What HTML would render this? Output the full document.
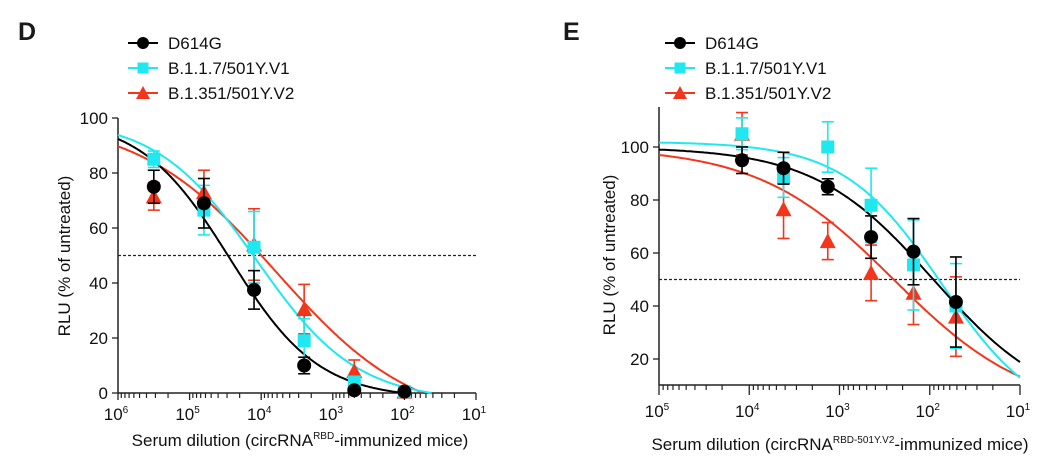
<!DOCTYPE html>
<html><head><meta charset="utf-8"><style>
body{margin:0;background:#fff}
svg{display:block;font-family:"Liberation Sans",Arial,sans-serif}
</style></head><body>
<svg id="fig" width="1054" height="475" viewBox="0 0 1054 475" xmlns="http://www.w3.org/2000/svg">
<text x="18" y="40" font-size="25" font-weight="bold" fill="#1a1a1a">D</text>
<text x="563" y="40" font-size="25" font-weight="bold" fill="#1a1a1a">E</text>
</svg>
<script>
// ---- Panel D data ----
const dLogX = [5.5, 4.8, 4.1, 3.4, 2.7, 2.0];
const dBlack = [75, 69, 37.5, 10, 1, 0.5];
const dBlackErr = [6, 9, 7, 3, 1, 0.5];
const dCyan = [85, 66.5, 53, 19, 4, 0.5];
const dCyanErr = [3, 9, 13, 8, 2, 0.5];
const dRed = [71.5, 73, 54, 30.5, 8, 0.5];
const dRedErr = [5, 8, 13, 9, 4, 0.5];
const dYTicks = [0, 20, 40, 60, 80, 100];
const dXTicks = [6, 5, 4, 3, 2, 1];
// curve params [top, bottom, midpoint(log), hill]
const dFitBlack = [100, -2, 4.44, 0.7];
const dFitCyan = [100, -3, 4.07, 0.62];
const dFitRed = [100, -12, 3.79, 0.45];
// ---- Panel E data ----
const eLogX = [4.08, 3.62, 3.13, 2.65, 2.18, 1.71];
const eBlack = [95, 92, 85, 66, 60.5, 41.5];
const eBlackErr = [5, 6, 3, 8, 12.5, 17];
const eCyan = [105, 88.5, 100, 78, 55.5, 40];
const eCyanErr = [6, 7.5, 9.5, 14, 17, 16];
const eRed = [105, 76.5, 64.5, 52.5, 45, 36];
const eRedErr = [8, 11, 7, 10.5, 12, 15];
const eYTicks = [20, 40, 60, 80, 100];
const eXTicks = [5, 4, 3, 2, 1];
const eFitBlack = [100, 0, 1.96, 0.66];
const eFitCyan = [102, -5, 1.87, 0.8];
const eFitRed = [100, 0, 2.4, 0.58];

const NS = "http://www.w3.org/2000/svg";
const svg = document.getElementById('fig');
const BLACK = "#000", CYAN = "#1fe8f0", RED = "#f2361c";
function mk(tag, attrs, parent) {
  const e = document.createElementNS(NS, tag);
  for (const k in attrs) e.setAttribute(k, attrs[k]);
  (parent || svg).appendChild(e);
  return e;
}
function marker(g, kind, x, y, color, s) {
  let m;
  if (kind === 'c') m = mk('circle', {cx: x, cy: y, r: s, fill: color}, g);
  else if (kind === 's') m = mk('rect', {x: x - s + 0.5, y: y - s + 0.5, width: 2 * s - 1, height: 2 * s - 1, fill: color}, g);
  else m = mk('polygon', {points: `${x},${y - s - 1} ${x - s - 1},${y + s} ${x + s + 1},${y + s}`, fill: color}, g);
  return m;
}
function panel(p) {
  const sx = l => p.x0 + (p.lmax - l) * (p.x1 - p.x0) / (p.lmax - p.lmin);
  const sy = v => p.y0 - (v - p.vmin) * (p.y0 - p.y1) / (p.vmax - p.vmin);
  const g = mk('g', {});
  
  
  const ya = mk('line', {x1: p.x0, x2: p.x0, y1: p.ytop, y2: p.y0, stroke: '#222', 'stroke-width': 1.5}, g);
  
  
  const xa = mk('line', {x1: p.x0, x2: p.x1, y1: p.y0, y2: p.y0, stroke: '#222', 'stroke-width': 1.5}, g);
  
  
  p.yTicks.forEach(v => {
    mk('line', {x1: p.x0 - 6, x2: p.x0, y1: sy(v), y2: sy(v), stroke: '#222', 'stroke-width': 1.3}, g);
    const t = mk('text', {x: p.x0 - 10, y: sy(v) + 6, 'text-anchor': 'end', 'font-size': 17, fill: '#111'}, g);
    t.textContent = v;
    
    
  });
  p.xTicks.forEach((n, i) => {
    mk('line', {x1: sx(n), x2: sx(n), y1: p.y0, y2: p.y0 + p.tmaj, stroke: '#222', 'stroke-width': 1.3}, g);
    const t = mk('text', {x: sx(n) - 2, y: p.y0 + p.lab, 'text-anchor': 'middle', 'font-size': 17, fill: '#111'}, g);
    t.textContent = '10';
    const sp = mk('tspan', {dy: -7, 'font-size': 10}, t);
    sp.textContent = n;
    
    
    if (i < p.xTicks.length - 1) {
      for (let k = 2; k <= 9; k++) {
        const l = n - 1 + Math.log10(k);
        mk('line', {x1: sx(l), x2: sx(l), y1: p.y0, y2: p.y0 + p.tmin, stroke: '#222', 'stroke-width': 1.2}, g);
      }
    }
  });
  const dl = mk('line', {x1: p.x0, x2: p.x1, y1: sy(50), y2: sy(50), stroke: '#222', 'stroke-width': 1.2, 'stroke-dasharray': '3,2'}, g);
  
  
  const draw = [p.series[2], p.series[1], p.series[0]];
  draw.forEach(s => {
    const [T, B, m, h] = s.fit;
    let d = '';
    for (let l = p.lmax; l >= p.lmin - 1e-9; l -= 0.02) {
      let v = B + (T - B) / (1 + Math.pow(10, h * (m - l)));
      if (v < p.vmin) break;
      d += (d ? 'L' : 'M') + sx(l).toFixed(1) + ',' + sy(v).toFixed(1);
    }
    const c = mk('path', {d: d, fill: 'none', stroke: s.color, 'stroke-width': 2}, g);
    
    
  });
  draw.forEach(s => {
    p.lx.forEach((l, i) => {
      const x = sx(l), y = sy(s.vals[i]);
      const e = s.err[i];
      const eg = mk('g', {stroke: s.color, 'stroke-width': 1.6}, g);
      
      
      const yt = sy(s.vals[i] + e), yb = sy(Math.max(p.vmin, s.vals[i] - e));
      mk('line', {x1: x, x2: x, y1: yt, y2: yb}, eg);
      mk('line', {x1: x - 6, x2: x + 6, y1: yt, y2: yt}, eg);
      mk('line', {x1: x - 6, x2: x + 6, y1: yb, y2: yb}, eg);
      const mm = marker(g, s.kind, x, y, s.color, 7);
      
      
    });
  });
  const yl = mk('text', {x: 0, y: 0, transform: `translate(${p.ylx},${p.yly}) rotate(-90)`, 'text-anchor': 'middle', 'font-size': 17, fill: '#111'}, g);
  yl.textContent = 'RLU (% of untreated)';
  
  
  const xl = mk('text', {x: p.xlx, y: p.xly, 'text-anchor': 'middle', 'font-size': 17, fill: '#111'}, g);
  
  
  const a = mk('tspan', {}, xl); a.textContent = 'Serum dilution (circRNA';
  const b = mk('tspan', {dy: -7, 'font-size': 10}, xl); b.textContent = p.sup;
  const c = mk('tspan', {dy: 7}, xl); c.textContent = '-immunized mice)';
  p.series.forEach((s, i) => {
    const y = p.legY + i * 25;
    const lg = mk('g', {}, g);
    
    
    mk('line', {x1: p.legX, x2: p.legX + 30, y1: y, y2: y, stroke: s.color, 'stroke-width': 2}, lg);
    marker(lg, s.kind, p.legX + 15, y, s.color, 6);
    const t = mk('text', {x: p.legX + 40, y: y + 6, 'font-size': 17, fill: '#111'}, lg);
    t.textContent = s.label;
  });
}
panel({name: 'panel-d', x0: 118, x1: 476, lmax: 6, lmin: 1, y0: 393, y1: 118, ytop: 118, vmin: 0, vmax: 100,
  yTicks: dYTicks, xTicks: dXTicks, lx: dLogX, tmaj: 7, tmin: 5, lab: 27,
  ylx: 70, yly: 256, xlx: 300, xly: 446, sup: 'RBD', legX: 128, legY: 43,
  series: [
    {key: 'd614g', label: 'D614G', color: BLACK, kind: 'c', vals: dBlack, err: dBlackErr, fit: dFitBlack},
    {key: 'b117', label: 'B.1.1.7/501Y.V1', color: CYAN, kind: 's', vals: dCyan, err: dCyanErr, fit: dFitCyan},
    {key: 'b1351', label: 'B.1.351/501Y.V2', color: RED, kind: 't', vals: dRed, err: dRedErr, fit: dFitRed}
  ]});
panel({name: 'panel-e', x0: 659, x1: 1020, lmax: 5, lmin: 1, y0: 385, y1: 147, ytop: 107, vmin: 100 - (385 - 147) / 2.65, vmax: 100,
  yTicks: eYTicks, xTicks: eXTicks, lx: eLogX, tmaj: 10, tmin: 5, lab: 32,
  ylx: 615, yly: 255, xlx: 840, xly: 450, sup: 'RBD-501Y.V2', legX: 665, legY: 43,
  series: [
    {key: 'd614g', label: 'D614G', color: BLACK, kind: 'c', vals: eBlack, err: eBlackErr, fit: eFitBlack},
    {key: 'b117', label: 'B.1.1.7/501Y.V1', color: CYAN, kind: 's', vals: eCyan, err: eCyanErr, fit: eFitCyan},
    {key: 'b1351', label: 'B.1.351/501Y.V2', color: RED, kind: 't', vals: eRed, err: eRedErr, fit: eFitRed}
  ]});
</script>
</body></html>
